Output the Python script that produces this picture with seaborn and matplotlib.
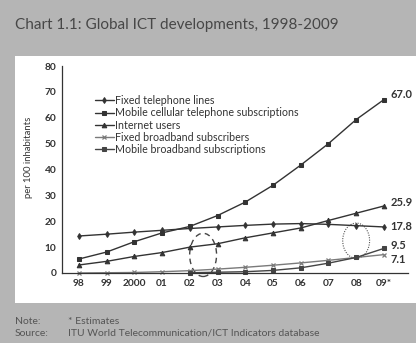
import numpy as np
import pandas as pd
import matplotlib
matplotlib.use("Agg")
import matplotlib.pyplot as plt
from matplotlib.patches import Rectangle, Ellipse
import seaborn as sns

# data (per 100 inhabitants)
years = ["98", "99", "2000", "01", "02", "03", "04", "05", "06", "07", "08", "09*"]
fixed_lines = [14.3, 15.0, 15.8, 16.5, 17.2, 17.8, 18.4, 18.9, 19.1, 18.8, 18.3, 17.8]
mobile_cellular = [5.4, 8.1, 12.1, 15.5, 18.0, 22.2, 27.4, 33.9, 41.7, 50.0, 59.3, 67.0]
internet_users = [3.1, 4.5, 6.4, 7.9, 10.0, 11.3, 13.6, 15.5, 17.4, 20.3, 23.1, 25.9]
fixed_broadband = [0.0, 0.1, 0.2, 0.5, 0.9, 1.5, 2.2, 3.0, 3.9, 4.9, 6.0, 7.1]
mobile_broadband = [np.nan, np.nan, np.nan, np.nan, 0.1, 0.3, 0.5, 1.0, 2.0, 3.8, 6.0, 9.5]

series_names = ["Fixed telephone lines", "Mobile cellular telephone subscriptions",
                "Internet users", "Fixed broadband subscribers",
                "Mobile broadband subscriptions"]
series_values = [fixed_lines, mobile_cellular, internet_users, fixed_broadband, mobile_broadband]
end_labels = ["17.8", "67.0", "25.9", "7.1", "9.5"]

sns.set_style("white")
plt.rcParams["font.family"] = ["Lato", "DejaVu Sans"]

gray_bg = "#b5b5b5"
ink = "#333333"

fig = plt.figure(figsize=(4.16, 3.43), dpi=100, facecolor=gray_bg)
# white panel behind the chart
fig.patches.append(Rectangle((15 / 416, 40 / 343), 1 - 15 / 416, 247 / 343,
                             transform=fig.transFigure, facecolor="white",
                             edgecolor="none", zorder=-1))

ax = fig.add_axes([62 / 416, 70 / 343, 346 / 416, 207 / 343])
ax.set_zorder(2)
ax.set_facecolor("white")

styles = [
    dict(marker="d", ms=3.0, color=ink),
    dict(marker="s", ms=3.0, color=ink),
    dict(marker="^", ms=3.3, color=ink),
    dict(marker="x", ms=3.2, color="#7a7a7a", mew=0.9),
    dict(marker="s", ms=2.6, color="#444444"),
]

x = np.arange(len(years))
for name, vals, st in zip(series_names, series_values, styles):
    df = pd.DataFrame({"x": x, "y": vals})
    sns.lineplot(data=df, x="x", y="y", ax=ax, label=name, lw=1.0,
                 markeredgecolor=st["color"], clip_on=False, **st)

# end-of-line value labels
label_y = [17.9, 69.0, 27.2, 5.4, 10.5]
for vals, txt, ly in zip(series_values, end_labels, label_y):
    ax.text(11.25, ly, txt, fontsize=8, fontweight="bold", color=ink,
            va="center", ha="left", clip_on=False)

# hand-drawn style highlight ellipses
ax.add_patch(Ellipse((4.48, 7.0), 0.97, 16.7, fill=False, ls=(0, (4, 3)),
                     lw=1.0, edgecolor="#444444", clip_on=False))
ax.add_patch(Ellipse((10.0, 12.5), 0.97, 13.6, fill=False, ls=(0, (1, 1.2)),
                     lw=0.8, edgecolor="#555555", clip_on=False))

ax.set_xlim(-0.61, 11.87)
ax.set_ylim(0, 80)
ax.set_yticks(range(0, 81, 10))
ax.set_xticks(x)
ax.set_xticklabels(years)
ax.set_xlabel("")
ax.set_ylabel("per 100 inhabitants", fontsize=6.8, color=ink)
ax.yaxis.set_label_coords(-0.085, 0.56)
ax.tick_params(axis="both", labelsize=7.3, colors=ink, length=2.5, width=0.8, pad=1.5)
for lab in ax.get_xticklabels() + ax.get_yticklabels():
    lab.set_fontweight("bold")
sns.despine(ax=ax, top=True, right=True)
for side in ["left", "bottom"]:
    ax.spines[side].set_color(ink)
    ax.spines[side].set_linewidth(0.9)

leg = ax.legend(loc="upper left", bbox_to_anchor=(0.095, 0.86), frameon=False,
                fontsize=7.7, handlelength=1.8, handletextpad=0.1,
                labelspacing=0.12, borderpad=0, borderaxespad=0)
for t in leg.get_texts():
    t.set_color(ink)

fig.text(15 / 416, 1 - 25 / 343, "Chart 1.1: Global ICT developments, 1998-2009",
         fontsize=11, color="#474747", va="center", ha="left")
fig.text(15 / 416, 1 - 322 / 343, "Note:", fontsize=7.5, color="#555555", va="center")
fig.text(68 / 416, 1 - 322 / 343, "* Estimates", fontsize=7.5, color="#555555", va="center")
fig.text(15 / 416, 1 - 333 / 343, "Source:", fontsize=7.5, color="#555555", va="center")
fig.text(68 / 416, 1 - 333 / 343, "ITU World Telecommunication/ICT Indicators database",
         fontsize=7.5, color="#555555", va="center")

fig.savefig("out.png", dpi=100, facecolor=gray_bg)
